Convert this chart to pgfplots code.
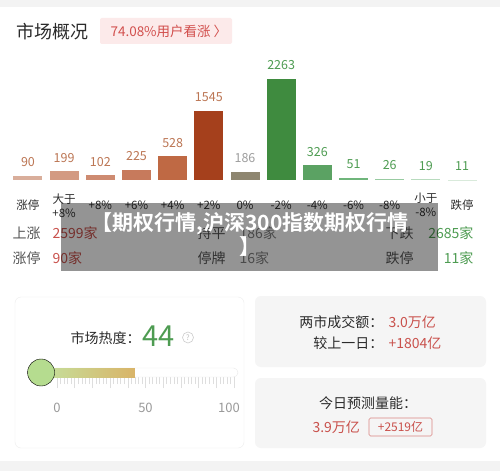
\documentclass[border=0pt]{standalone}
\usepackage{fontspec}
\setmainfont{Noto Sans CJK SC}[BoldFont={Noto Sans CJK SC Bold}]
\usepackage{pgfplots}
\pgfplotsset{compat=1.18}
\definecolor{bgG}{HTML}{F3F3F3}
\definecolor{tit}{HTML}{2B2B2B}
\definecolor{badgebg}{HTML}{FCEAEA}
\definecolor{badgetx}{HTML}{D24F4D}
\definecolor{redt}{HTML}{C9514C}
\definecolor{greent}{HTML}{4E9C52}
\definecolor{greyt}{HTML}{555555}
\definecolor{brownv}{HTML}{BC7654}
\definecolor{c1}{HTML}{D9AE9B}
\definecolor{c2}{HTML}{D39A82}
\definecolor{c3}{HTML}{CE8B71}
\definecolor{c4}{HTML}{C77A5C}
\definecolor{c5}{HTML}{BF6944}
\definecolor{c6}{HTML}{A5401C}
\definecolor{c7}{HTML}{8E8670}
\definecolor{c8}{HTML}{3F8B3F}
\definecolor{c9}{HTML}{5BA263}
\definecolor{c10}{HTML}{6FB57B}
\definecolor{c11}{HTML}{98CBA1}
\definecolor{c12}{HTML}{B8DBBE}
\definecolor{c13}{HTML}{D9EADB}
\definecolor{knob}{HTML}{B5DC8F}
\definecolor{gradA}{HTML}{C4E19E}
\definecolor{gradB}{HTML}{D9B468}
\newcommand{\fs}[1]{\fontsize{#1bp}{#1bp}\selectfont}
\begin{document}
\begin{tikzpicture}[x=1bp,y=1bp]
% background
\fill[white] (0,0) rectangle (500,-475);
\fill[bgG] (0,0) rectangle (500,-7);
\fill[bgG] (0,-461) rectangle (500,-471);
\coordinate (barA) at (9.9,-180);
\coordinate (sliA) at (28,-377);
% title
\node[anchor=west, text=tit, font=\fs{18}] at (13,-32) {市场概况};
\fill[badgebg, rounded corners=2bp] (100,-18) rectangle (232,-44);
\node[anchor=west, text=badgetx, font=\fs{13.5}] at (107,-31) {74.08\%用户看涨 〉};
% bar chart
\begin{axis}[at={(barA)}, anchor=south west, scale only axis,
  width=470.2bp, height=111.6bp, xmin=-0.5, xmax=12.5, ymin=0, ymax=2500,
  ybar, bar width=29bp, bar shift=0pt,
  axis line style={draw=none}, major tick style={draw=none}, ytick=\empty,
  xtick={0,...,12},
  xticklabels={涨停,大于\\+8\%,+8\%,+6\%,+4\%,+2\%,0\%,-2\%,-4\%,-6\%,-8\%,小于\\-8\%,跌停},
  xticklabel style={anchor=center, yshift=-21bp, align=center, font=\fontsize{11.5bp}{14bp}\selectfont, text=tit},
  /pgf/number format/assume math mode=true, /pgf/number format/1000 sep={},
  nodes near coords,
  every node near coord/.append style={anchor=center, yshift=13.5bp, font=\fs{12.5}},
  clip=false]
\addplot[fill=c1, draw=none, every node near coord/.append style={text=brownv}] coordinates {(0,90)};
\addplot[fill=c2, draw=none, every node near coord/.append style={text=brownv}] coordinates {(1,199)};
\addplot[fill=c3, draw=none, every node near coord/.append style={text=brownv}] coordinates {(2,102)};
\addplot[fill=c4, draw=none, every node near coord/.append style={text=brownv}] coordinates {(3,225)};
\addplot[fill=c5, draw=none, every node near coord/.append style={text=brownv}] coordinates {(4,528)};
\addplot[fill=c6, draw=none, every node near coord/.append style={text=brownv}] coordinates {(5,1545)};
\addplot[fill=c7, draw=none, every node near coord/.append style={text=black!38}] coordinates {(6,186)};
\addplot[fill=c8, draw=none, every node near coord/.append style={text=greent}] coordinates {(7,2263)};
\addplot[fill=c9, draw=none, every node near coord/.append style={text=greent}] coordinates {(8,326)};
\addplot[fill=c10, draw=none, every node near coord/.append style={text=greent}] coordinates {(9,51)};
\addplot[fill=c11, draw=none, every node near coord/.append style={text=greent}] coordinates {(10,26)};
\addplot[fill=c12, draw=none, every node near coord/.append style={text=greent}] coordinates {(11,19)};
\addplot[fill=c13, draw=none, every node near coord/.append style={text=greent}] coordinates {(12,11)};
\end{axis}
% summary rows
\begin{scope}[font=\fs{14}]
\node[anchor=west, text=greyt] at (9,-233) {上涨};
\node[anchor=west, text=redt] at (49,-233) {2599家};
\node[anchor=west, text=greyt] at (194,-233) {持平};
\node[anchor=west, text=black!50] at (236,-233) {186家};
\node[anchor=west, text=greyt] at (382,-233) {下跌};
\node[anchor=east, text=greent] at (477,-233) {2685家};
\node[anchor=west, text=greyt] at (9,-258) {涨停};
\node[anchor=west, text=redt] at (49,-258) {90家};
\node[anchor=west, text=greyt] at (194,-258) {停牌};
\node[anchor=west, text=black!50] at (236,-258) {16家};
\node[anchor=west, text=greyt] at (382,-258) {跌停};
\node[anchor=east, text=greent] at (477,-258) {11家};
\end{scope}
% watermark
\fill[black, opacity=0.42] (61,-203) rectangle (438,-271);
\node[text=white, font=\fs{21}\bfseries, align=center, anchor=north] at (250,-209) {【期权行情,沪深300指数期权行情\\[1bp]】};
% cards
\draw[black!7, fill=white, rounded corners=6bp] (15,-297) rectangle (244,-448);
\fill[bgG!80!white, rounded corners=6bp] (255,-296) rectangle (486,-367);
\fill[bgG!80!white, rounded corners=6bp] (255,-378) rectangle (486,-448);
% heat card
\node[anchor=west, text=tit, font=\fs{14}] at (67,-338) {市场热度：};
\node[anchor=west, text=greent, font=\fs{29}, inner sep=0pt] at (142,-336) {44};
\draw[black!20, line width=0.6bp] (188,-337.5) circle (5.5);
\node[text=black!25, font=\fs{7.5}] at (188,-337.5) {?};
\begin{axis}[at={(sliA)}, anchor=south west, scale only axis,
  width=210bp, height=9bp, xmin=-16.38, xmax=102.26, ymin=0, ymax=1,
  axis line style={draw=none}, ytick=\empty,
  xtick={0,10,...,100}, xticklabels={0,,,,,50,,,,,\hspace*{-10bp}100},
  minor x tick num=4, tick pos=bottom, tick align=outside,
  major tick length=11bp, minor tick length=7bp,
  every tick/.style={black!13, line width=0.5bp},
  xticklabel style={anchor=center, yshift=-20bp, font=\fs{13}, text=black!40},
  clip=false]
\draw[black!9, fill=white, rounded corners=4.5bp] (rel axis cs:0,0) rectangle (rel axis cs:1,1);
\addplot[draw=none, left color=gradA, right color=gradB] coordinates {(-9.0,1) (44,1)} \closedcycle;
\addplot[only marks, mark=*, mark size=13.5bp, mark options={fill=knob, draw=none}] coordinates {(-9.0,0.5)};
\end{axis}
% turnover card
\begin{scope}[font=\fs{14}]
\node[anchor=east, text=tit] at (387,-322) {两市成交额：};
\node[anchor=west, text=redt] at (385,-322) {3.0万亿};
\node[anchor=east, text=tit] at (387,-343) {较上一日：};
\node[anchor=west, text=redt] at (385,-343) {+1804亿};
\node[text=tit] at (368,-403) {今日预测量能：};
\node[anchor=west, text=redt] at (309,-427) {3.9万亿};
\end{scope}
\draw[redt!70, rounded corners=1.5bp, line width=0.6bp] (369,-418) rectangle (432,-436);
\node[text=redt, font=\fs{12}] at (400.5,-427) {+2519亿};
\end{tikzpicture}
\end{document}
